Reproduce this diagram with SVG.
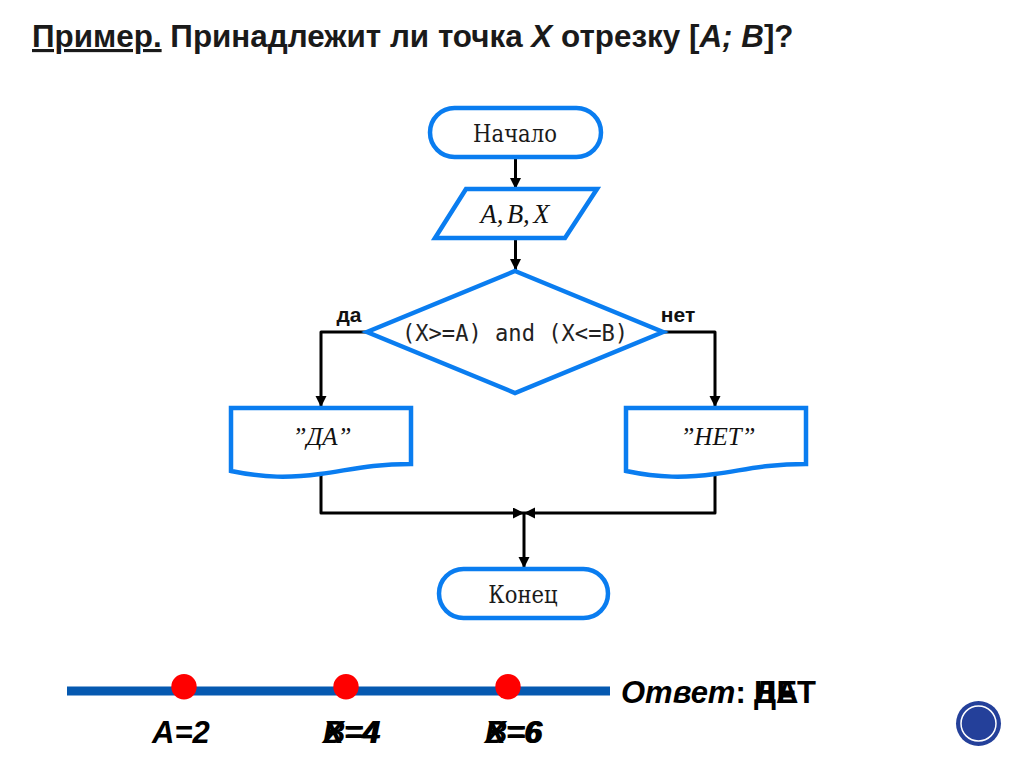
<svg xmlns="http://www.w3.org/2000/svg" width="1024" height="767" viewBox="0 0 1024 767">
<style>
.s{fill:#fff;stroke:#0a7df0;stroke-width:4.5;stroke-linejoin:miter}
.c{fill:none;stroke:#000;stroke-width:3;stroke-linejoin:round}
.f{font-family:"DejaVu Serif Condensed","Liberation Serif",serif;font-size:23.500px;fill:#1a1a1a;text-anchor:middle}
.fi{font-family:"Liberation Serif",serif;font-style:italic;font-size:26.500px;fill:#111;text-anchor:middle}
.fo{font-family:"Liberation Serif",serif;font-style:italic;font-size:25px;fill:#111;text-anchor:middle}
.m{font-family:"DejaVu Sans Mono",monospace;font-size:22.100px;fill:#222;text-anchor:middle}
.l{font-family:"Liberation Sans",Arial,sans-serif;font-weight:bold;font-size:21px;fill:#111;text-anchor:middle}
.b{font-family:"Liberation Sans",Arial,sans-serif;font-weight:bold;font-size:31px;fill:#000}
.t{font-family:"Liberation Sans",Arial,sans-serif;font-weight:bold;font-size:31.400px;fill:#1a1a1a}
</style>
<defs>
<marker id="a" markerUnits="userSpaceOnUse" markerWidth="12" markerHeight="12" refX="11" refY="5.500" orient="auto"><path d="M0 0L11 5.500L0 11Z" fill="#000"/></marker>
</defs>
<rect width="1024" height="767" fill="#fff"/>
<text class="t" x="32" y="47"><tspan text-decoration="underline">Пример.</tspan> Принадлежит ли точка <tspan font-style="italic">X</tspan> отрезку [<tspan font-style="italic">A; B</tspan>]?</text>
<g id="connectors">
<path class="c" marker-end="url(#a)" d="M515.500 158V189"/>
<path class="c" marker-end="url(#a)" d="M515.500 238V270"/>
<path class="c" marker-end="url(#a)" d="M366 332H321V407"/>
<path class="c" marker-end="url(#a)" d="M663 332H715V407"/>
<path class="c" marker-end="url(#a)" d="M321 471V513H524"/>
<path class="c" marker-end="url(#a)" d="M715 473V513H524"/>
<path class="c" marker-end="url(#a)" d="M524 513V568"/>
</g>
<g id="start"><rect class="s" x="430" y="108" width="171" height="49" rx="24.500"/><text class="f" x="515" y="142">Начало</text></g>
<g id="input"><path class="s" d="M466 189H597L565 238H435Z"/><text class="fi" x="515" y="223" word-spacing="-3">A, B, X</text></g>
<g id="decision"><path class="s" d="M515 271L663 332L515 393L367 332Z"/><text class="m" x="515" y="341">(X&gt;=A) and (X&lt;=B)</text></g>
<g id="label-yes"><text class="l" x="349" y="322">да</text></g>
<g id="label-no"><text class="l" x="678" y="322">нет</text></g>
<g id="out-yes"><path class="s" d="M231 408H411V464C370 464 350 470 320 474C290 478 265 478 231 471Z"/><text class="fo" x="322" y="445">”ДА”</text></g>
<g id="out-no"><path class="s" d="M626 408H806V464C765 464 745 470 715 474C685 478 660 478 626 471Z"/><text class="fo" x="718" y="445">”НЕТ”</text></g>
<g id="end"><rect class="s" x="439" y="569" width="169" height="49" rx="24.500"/><text class="f" x="523" y="603">Конец</text></g>
<rect x="67" y="686.500" width="543" height="9" fill="#0559b0"/>
<g fill="#f00"><circle cx="184" cy="686.700" r="12.700"/><circle cx="346" cy="686.700" r="12.700"/><circle cx="508" cy="686.700" r="12.700"/></g>
<text class="b" x="152" y="743" font-style="italic">A=2</text>
<text class="b" x="323" y="743" font-style="italic">B=4</text>
<text class="b" x="323" y="743" font-style="italic">X=4</text>
<text class="b" x="485" y="743" font-style="italic">B=6</text>
<text class="b" x="485" y="743" font-style="italic">X=6</text>
<text class="b" x="621" y="703"><tspan font-style="italic">Ответ</tspan>:</text>
<text class="b" x="754" y="703">ДА</text>
<text class="b" x="754" y="703">НЕТ</text>
<circle cx="978.500" cy="723.500" r="22.500" fill="#24409a"/>
<circle cx="978.500" cy="723.500" r="17.500" fill="none" stroke="#fff" stroke-width="1.500"/>
</svg>
